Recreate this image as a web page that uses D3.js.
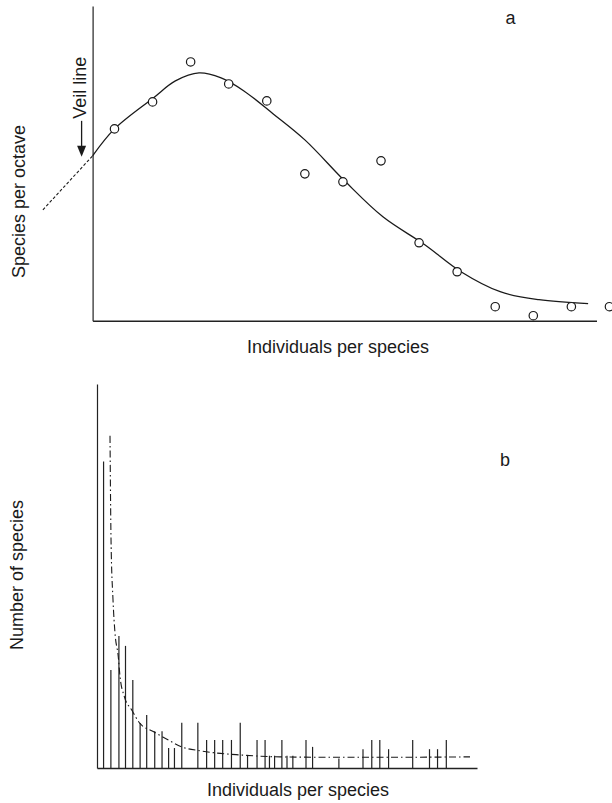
<!DOCTYPE html>
<html>
<head>
<meta charset="utf-8">
<style>
  body { margin: 0; background: #fff; }
  text { font-family: "Liberation Sans", Arial, sans-serif; fill: #1a1a1a; }
</style>
</head>
<body>
<script src="https://d3js.org/d3.v7.min.js"></script>
<div id="chart"></div>
<script>
// ---- panel a : species per octave ----
var octaves          = [1, 2, 3, 4, 5, 6, 7, 8, 9, 10, 11, 12, 13, 14];
var speciesPerOctave = [19.2, 21.9, 25.9, 23.7, 22.0, 14.7, 13.9, 16.0, 7.8, 4.9, 1.4, 0.5, 1.4, 1.4];

// fitted lognormal curve
var fitOctave  = [0.425, 1.0, 2.02, 2.6, 3.22, 3.8, 4.4, 5.17, 6.0, 7.07, 8.05, 9.15, 10.1, 11.13, 12.15, 13.44];
var fitSpecies = [16.5, 19.2, 22.3, 24.0, 24.8, 24.3, 23.0, 20.7, 18.1, 13.9, 10.4, 7.6, 4.9, 2.9, 2.1, 1.7];

// hidden part behind the veil line (dashed)
var veilOctave  = [-0.88, 0.425];
var veilSpecies = [11.1, 16.5];

// ---- panel b : number of species per abundance ----
var individuals = [0.9, 1.9, 3.0, 3.9, 4.9, 5.9, 6.8, 7.9, 8.9, 9.8, 10.6, 11.6, 13.8, 15.0, 16.1, 17.2,
                   18.4, 19.6, 20.6, 21.9, 23.0, 23.6, 24.3, 25.3, 26.0, 26.8, 28.6, 29.5, 33.1, 36.4,
                   37.6, 38.7, 39.9, 43.2, 45.5, 46.6, 47.8];
var numSpecies  = [79.8, 25.5, 34.4, 31.8, 22.9, 11.7, 13.8, 9.6, 9.6, 5.2, 5.2, 11.8, 11.8, 7.3, 7.3, 7.3,
                   7.3, 11.8, 3.4, 7.3, 7.3, 3.2, 3.2, 7.3, 3.2, 3.2, 7.3, 5.5, 2.5, 4.9,
                   7.3, 7.3, 4.9, 7.3, 4.9, 4.9, 7.3];

// log-series style fit (dash-dot)
var curveIndividuals = [1.78, 1.92, 2.19, 2.46, 2.91, 3.15, 3.74, 4.75, 5.88, 7.7, 9.76, 11.59, 14.09, 15.87, 19.57, 25.04, 31.88, 41.46, 51.04];
var curveSpecies     = [86.5, 59.4, 43.8, 35.2, 29.0, 23.8, 18.6, 15.1, 11.6, 9.5, 7.3, 5.5, 4.5, 4.0, 3.4, 2.9, 2.8, 2.8, 2.9];

var width = 612, height = 803;

var svg = d3.select("#chart")
  .append("svg")
    .attr("width", width)
    .attr("height", height);

// ================= panel a =================
var xA = d3.scaleLinear().domain([0.425, 13.66]).range([92.6, 596.5]);
var yA = d3.scaleLinear().domain([0, 31.5]).range([320.7, 6]);

var gA = svg.append("g");

gA.append("g")
  .attr("transform", "translate(" + xA.range()[0] + ",0)")
  .call(d3.axisLeft(yA).tickValues([]).tickSizeOuter(0))
  .select(".domain").attr("stroke", "#222").attr("stroke-width", 1.2);

gA.append("g")
  .attr("transform", "translate(0," + yA(0) + ")")
  .call(d3.axisBottom(xA).tickValues([]).tickSizeOuter(0))
  .select(".domain").attr("stroke", "#222").attr("stroke-width", 1.5);

var lineA = d3.line()
  .x(function(d) { return xA(d[0]); })
  .y(function(d) { return yA(d[1]); })
  .curve(d3.curveCatmullRom.alpha(0.5));

gA.append("path")
  .datum(d3.zip(fitOctave, fitSpecies))
  .attr("d", lineA)
  .attr("fill", "none")
  .attr("stroke", "#1a1a1a")
  .attr("stroke-width", 1.3);

gA.append("path")
  .datum(d3.zip(veilOctave, veilSpecies))
  .attr("d", lineA)
  .attr("fill", "none")
  .attr("stroke", "#1a1a1a")
  .attr("stroke-width", 1.1)
  .attr("stroke-dasharray", "3,2");

gA.selectAll("circle")
  .data(d3.zip(octaves, speciesPerOctave))
  .enter()
  .append("circle")
    .attr("cx", function(d) { return xA(d[0]); })
    .attr("cy", function(d) { return yA(d[1]); })
    .attr("r", 4.2)
    .attr("fill", "#fff")
    .attr("stroke", "#1a1a1a")
    .attr("stroke-width", 1.2);

// veil line arrow
var ax = xA(veilOctave[1]) - 11, tipY = yA(veilSpecies[1]) + 1;
gA.append("line")
  .attr("x1", ax).attr("x2", ax)
  .attr("y1", tipY - 36).attr("y2", tipY - 8)
  .attr("stroke", "#1a1a1a").attr("stroke-width", 1.3);
gA.append("path")
  .attr("d", "M" + (ax - 4.5) + "," + (tipY - 11) + "L" + (ax + 4.5) + "," + (tipY - 11) + "L" + ax + "," + tipY + "Z")
  .attr("fill", "#1a1a1a");

gA.append("text")
  .attr("transform", "translate(86," + (tipY - 38) + ") rotate(-90)")
  .attr("font-size", 18)
  .text("Veil line");

gA.append("text")
  .attr("transform", "translate(25,201.5) rotate(-90)")
  .attr("text-anchor", "middle")
  .attr("font-size", 18)
  .text("Species per octave");

gA.append("text")
  .attr("x", 338).attr("y", 352.5)
  .attr("text-anchor", "middle")
  .attr("font-size", 18)
  .text("Individuals per species");

gA.append("text")
  .attr("x", 510.5).attr("y", 24)
  .attr("text-anchor", "middle")
  .attr("font-size", 18)
  .text("a");

// ================= panel b =================
var xB = d3.scaleLinear().domain([0, 52]).range([97, 477]);
var yB = d3.scaleLinear().domain([0, 100]).range([768, 384]);

var gB = svg.append("g");

gB.append("g")
  .attr("transform", "translate(" + xB(0) + ",0)")
  .call(d3.axisLeft(yB).tickValues([]).tickSizeOuter(0))
  .select(".domain").attr("stroke", "#222").attr("stroke-width", 1.2);

gB.append("g")
  .attr("transform", "translate(0," + yB(0) + ")")
  .call(d3.axisBottom(xB).tickValues([]).tickSizeOuter(0))
  .select(".domain").attr("stroke", "#222").attr("stroke-width", 1.5);

gB.selectAll("line.spike")
  .data(d3.zip(individuals, numSpecies))
  .enter()
  .append("line")
    .attr("class", "spike")
    .attr("x1", function(d) { return xB(d[0]); })
    .attr("x2", function(d) { return xB(d[0]); })
    .attr("y1", yB(0))
    .attr("y2", function(d) { return yB(d[1]); })
    .attr("stroke", "#222")
    .attr("stroke-width", 1.2);

var lineB = d3.line()
  .x(function(d) { return xB(d[0]); })
  .y(function(d) { return yB(d[1]); })
  .curve(d3.curveMonotoneX);

gB.append("path")
  .datum(d3.zip(curveIndividuals, curveSpecies))
  .attr("d", lineB)
  .attr("fill", "none")
  .attr("stroke", "#1a1a1a")
  .attr("stroke-width", 1.1)
  .attr("stroke-dasharray", "7,3,1.5,3");

gB.append("text")
  .attr("transform", "translate(22.5,575) rotate(-90)")
  .attr("text-anchor", "middle")
  .attr("font-size", 18)
  .text("Number of species");

gB.append("text")
  .attr("x", 298).attr("y", 796)
  .attr("text-anchor", "middle")
  .attr("font-size", 18)
  .text("Individuals per species");

gB.append("text")
  .attr("x", 505).attr("y", 466)
  .attr("text-anchor", "middle")
  .attr("font-size", 18)
  .text("b");
</script>
</body>
</html>
